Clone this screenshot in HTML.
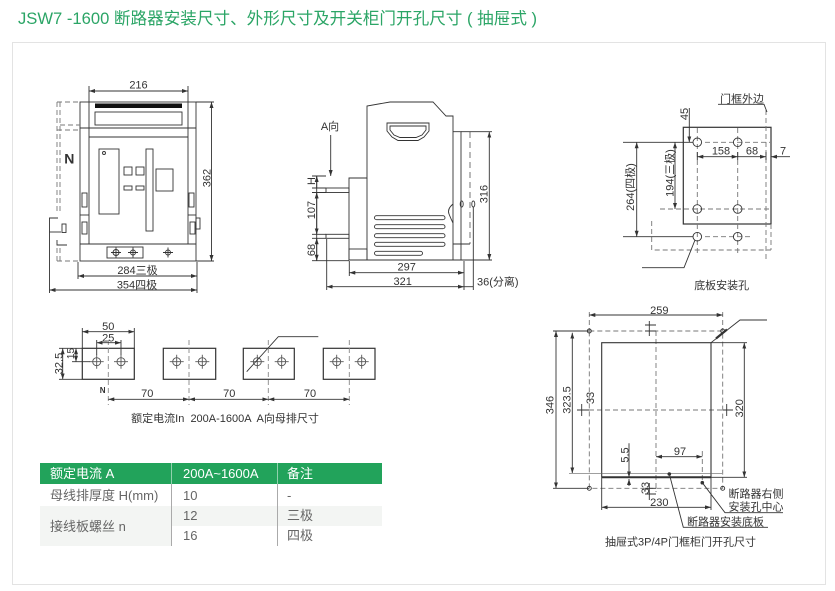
<!DOCTYPE html>
<html><head><meta charset="utf-8">
<style>
html,body{margin:0;padding:0;background:#fff;}
body{width:835px;height:591px;position:relative;overflow:hidden;font-family:"Liberation Sans","Noto Sans CJK SC",sans-serif;}
.frame{position:absolute;left:12px;top:42px;width:812px;height:541px;border:1px solid #e3e3e3;}
.title{position:absolute;left:18px;top:8px;font-size:16.6px;color:#2ba566;white-space:pre;line-height:22px;}
svg{position:absolute;left:0;top:0;}
.bg{position:absolute;}
.t{position:absolute;font-size:13px;white-space:pre;line-height:20px;color:#666;}
.h{color:#fff;}
</style></head><body>
<div class="frame"></div>
<div class="title">JSW7 -1600 断路器安装尺寸、外形尺寸及开关柜门开孔尺寸 ( 抽屉式 )</div>

<!-- table -->
<div class="bg" style="left:40px;top:463px;width:342px;height:21px;background:#22a35b;"></div>
<div class="bg" style="left:171px;top:463px;width:1px;height:21px;background:rgba(255,255,255,0.5);"></div>
<div class="bg" style="left:277px;top:463px;width:1px;height:21px;background:rgba(255,255,255,0.5);"></div>
<div class="bg" style="left:40px;top:506px;width:342px;height:20px;background:#f3f5f3;"></div>
<div class="bg" style="left:40px;top:526px;width:131px;height:20px;background:#f3f5f3;"></div>
<div class="bg" style="left:171px;top:484px;width:1px;height:62px;background:#aaa;"></div>
<div class="bg" style="left:277px;top:484px;width:1px;height:62px;background:#aaa;"></div>
<div class="t h" style="left:50px;top:463.5px;">额定电流 A</div>
<div class="t h" style="left:183px;top:463.5px;">200A~1600A</div>
<div class="t h" style="left:287px;top:463.5px;">备注</div>
<div class="t" style="left:50px;top:485.5px;">母线排厚度 H(mm)</div>
<div class="t" style="left:183px;top:485.5px;">10</div>
<div class="t" style="left:287px;top:485.5px;">-</div>
<div class="t" style="left:183px;top:506px;">12</div>
<div class="t" style="left:287px;top:506px;">三极</div>
<div class="t" style="left:183px;top:526px;">16</div>
<div class="t" style="left:287px;top:526px;">四极</div>
<div class="t" style="left:50px;top:516.5px;">接线板螺丝 n</div>

<svg width="835" height="591" viewBox="0 0 835 591" font-family="Liberation Sans, Noto Sans CJK SC, sans-serif">
<defs>
<marker id="a" markerUnits="userSpaceOnUse" markerWidth="6" markerHeight="4" refX="6" refY="2" orient="auto-start-reverse"><path d="M0,0L6,2L0,4z" fill="#333"/></marker>
</defs>

<!-- ===== FRONT VIEW ===== -->
<g fill="none" stroke="#333" stroke-width="0.9">
<rect x="80" y="102" width="116" height="159"/>
<path d="M89,102V244M188,102V244"/>
<rect x="95" y="112" width="87" height="13"/>
<path d="M80,128H196M89,137H188M80,244H196"/>
<rect x="99" y="149" width="20" height="65"/>
<circle cx="104" cy="153" r="1.5"/>
<rect x="124" y="167" width="8" height="8"/>
<rect x="136" y="167" width="8" height="8"/>
<rect x="124" y="186" width="8" height="4"/>
<rect x="136" y="186" width="8" height="4"/>
<rect x="146" y="149" width="7" height="82"/>
<rect x="156" y="169" width="17" height="22"/>
<rect x="107" y="247" width="36" height="11"/>
<circle cx="116" cy="252.5" r="3"/><path d="M111,252.5H121M116,247.5V257.5"/>
<circle cx="133" cy="252.5" r="2.5"/><path d="M128,252.5H138M133,247.5V257.5"/>
<circle cx="168" cy="252.5" r="2.5"/><path d="M163,252.5H173M168,247.5V257.5"/>
<!-- side brackets -->
<rect x="82" y="193" width="5" height="14"/>
<path d="M80,215H89"/>
<rect x="82" y="222" width="5" height="12"/>
<rect x="189" y="193" width="5" height="14"/>
<path d="M188,215H196"/>
<rect x="190" y="222" width="5" height="12"/>
<rect x="196" y="218" width="4" height="11"/>
<!-- N pole dashed -->
<g stroke="#777" stroke-dasharray="5,3">
<path d="M57,102V214M60,102V214M57,102H80M60,125H80M57,130H78M57,248V261M60,248V261M57,261H80"/>
</g>
<path d="M58,218H49.5V293"/>
<path d="M49.5,232H61"/>
<rect x="62" y="224" width="4" height="8.5"/>
<path d="M57,240V245H67"/>
<!-- dims -->
<path d="M89,91H188" marker-start="url(#a)" marker-end="url(#a)"/>
<path d="M89,86V102M188,86V102"/>
<path d="M211.5,102V261" marker-start="url(#a)" marker-end="url(#a)"/>
<path d="M196,102H214M196,261H214"/>
<path d="M78,276H197" marker-start="url(#a)" marker-end="url(#a)"/>
<path d="M78,262V279M197,262V293"/>
<path d="M49.5,290H197" marker-start="url(#a)" marker-end="url(#a)"/>
</g>
<rect x="95" y="103.5" width="87" height="4.5" fill="#111"/>

<!-- ===== SIDE VIEW ===== -->
<g fill="none" stroke="#333" stroke-width="0.9">
<path d="M349,260V178H367V106L390,102H433L446,116H453V260"/>
<path d="M453,131.7H461V260M349,260H461M367,178V260"/>
<rect x="349" y="249" width="18" height="11"/>
<rect x="326" y="188" width="23" height="4.5"/>
<rect x="326" y="234.3" width="23" height="4"/>
<path d="M387,123H429V131L424,137L418,140.5H398L392,137L387,131Z"/>
<path d="M390,126H426V130L422,135L416,137.5H400L394,135L390,130Z"/>
<rect x="374.5" y="215.7" width="70.5" height="4" rx="2"/>
<rect x="374.5" y="224.7" width="70.5" height="4" rx="2"/>
<rect x="374.5" y="233.7" width="70.5" height="4" rx="2"/>
<rect x="374.5" y="242.3" width="70.5" height="4" rx="2"/>
<rect x="374.5" y="251.3" width="48" height="4" rx="2"/>
<path d="M453,204Q447,209 449,214Q451,219 453,223"/>
<ellipse cx="461.7" cy="204" rx="1.5" ry="3"/>
<ellipse cx="473.3" cy="204" rx="1.5" ry="3"/>
<path d="M470,132V244" stroke="#666" stroke-dasharray="6,4"/>
<path d="M453,244H470"/>
<path d="M473.3,207V290"/>
<path d="M330.7,135V176" marker-end="url(#a)"/>
<!-- left dims -->
<path d="M316.7,176V260.7"/>
<path d="M316.7,188V176" marker-end="url(#a)"/>
<path d="M316.7,192.5V234.3" marker-start="url(#a)" marker-end="url(#a)"/>
<path d="M316.7,238.3V260.7" marker-start="url(#a)" marker-end="url(#a)"/>
<path d="M312,176H326M312,188H326M312,192.5H326M312,234.3H326M312,238.3H326M312,260.7H349"/>
<!-- 316 -->
<path d="M489.3,131.7V260" marker-start="url(#a)" marker-end="url(#a)"/>
<path d="M461,131.7H492M461,260H492"/>
<!-- bottom dims -->
<path d="M349.3,272.7H464" marker-start="url(#a)" marker-end="url(#a)"/>
<path d="M326.7,286.7H464" marker-start="url(#a)" marker-end="url(#a)"/>
<path d="M464,286.7H473.3"/>
<path d="M349.3,261V276M326.7,239V290M464,261V290"/>
</g>

<!-- ===== BASE PLATE HOLES ===== -->
<g fill="none" stroke="#333" stroke-width="0.9">
<rect x="683.3" y="127.3" width="87.7" height="96.7" stroke-width="1.2"/>
<g stroke="#777" stroke-dasharray="5,3">
<path d="M697.3,128V256M737.7,128V256M705,142.3H770M660,209H771M705,236.7H750"/>
<path d="M651.7,221V250H771M771,224V250M766,110V262"/>
</g>
<circle cx="697.3" cy="142.3" r="4.3"/>
<circle cx="737.7" cy="142.3" r="4.3"/>
<circle cx="697.3" cy="209" r="4.3"/>
<circle cx="737.7" cy="209" r="4.3"/>
<circle cx="697.3" cy="236.7" r="4.3"/>
<circle cx="737.7" cy="236.7" r="4.3"/>
<path d="M718,104.3H764L767,112"/>
<path d="M689.3,108V142.3" marker-end="url(#a)"/>
<path d="M697.3,156.7H737.7" marker-start="url(#a)" marker-end="url(#a)"/>
<path d="M737.7,156.7H766" marker-end="url(#a)"/>
<path d="M790,156.7H771" marker-end="url(#a)"/>
<path d="M697.3,152V160M737.7,152V160M766,152V160M771,152V160"/>
<path d="M636.7,142.3V236.7" marker-start="url(#a)" marker-end="url(#a)"/>
<path d="M623,142.3H693M623,236.7H693"/>
<path d="M675,142.3V209" marker-start="url(#a)" marker-end="url(#a)"/>
<path d="M695,240L684,267.7H642"/>
</g>

<!-- ===== BUS BAR VIEW ===== -->
<g fill="none" stroke="#333" stroke-width="0.9">
<g stroke-width="1.2">
<rect x="82.3" y="348.3" width="52" height="31"/>
<rect x="163.3" y="348.3" width="52.4" height="31"/>
<rect x="243.3" y="348.3" width="51" height="31"/>
<rect x="323.3" y="348.3" width="51.7" height="31"/>
</g>
<g stroke="#555">
<circle cx="96.7" cy="361.7" r="4"/><path d="M89.7,361.7H103.7M96.7,354.7V368.7"/>
<circle cx="121" cy="361.7" r="4"/><path d="M114,361.7H128M121,354.7V368.7"/>
<circle cx="176.7" cy="361.7" r="4"/><path d="M169.7,361.7H183.7M176.7,354.7V368.7"/>
<circle cx="202.3" cy="361.7" r="4"/><path d="M195.3,361.7H209.3M202.3,354.7V368.7"/>
<circle cx="257.3" cy="361.7" r="4"/><path d="M250.3,361.7H264.3M257.3,354.7V368.7"/>
<circle cx="281.7" cy="361.7" r="4"/><path d="M274.7,361.7H288.7M281.7,354.7V368.7"/>
<circle cx="336.7" cy="361.7" r="4"/><path d="M329.7,361.7H343.7M336.7,354.7V368.7"/>
<circle cx="361.7" cy="361.7" r="4"/><path d="M354.7,361.7H368.7M361.7,354.7V368.7"/>
</g>
<g stroke="#888" stroke-dasharray="5,3">
<path d="M108.3,340V405M189,340V405M268.3,340V405M349.3,340V405"/>
</g>
<path d="M82.3,331.7H134.3" marker-start="url(#a)" marker-end="url(#a)"/>
<path d="M82.3,328V348M134.3,328V348"/>
<path d="M96.7,342.7H121" marker-start="url(#a)" marker-end="url(#a)"/>
<path d="M96.7,340V355M121,340V355"/>
<path d="M76,348.3V361.7" marker-start="url(#a)" marker-end="url(#a)"/>
<path d="M72,361.7H90M59,348.3H82"/>
<path d="M62.7,348.3V379.3" marker-start="url(#a)" marker-end="url(#a)"/>
<path d="M59,379.3H82"/>
<path d="M108.3,399.3H189" marker-start="url(#a)" marker-end="url(#a)"/>
<path d="M189,399.3H268.3" marker-start="url(#a)" marker-end="url(#a)"/>
<path d="M268.3,399.3H349.3" marker-start="url(#a)" marker-end="url(#a)"/>
<path d="M246.7,371.7L278.3,336.7H318.3"/>
</g>

<!-- ===== DOOR CUTOUT ===== -->
<g fill="none" stroke="#333" stroke-width="0.9">
<g stroke="#777" stroke-dasharray="5,3">
<rect x="589.3" y="331" width="133.4" height="157.3"/>
<path d="M656,331V492M589,410H723M589.3,312V331M722.7,312V331M702.3,451V480"/>
</g>
<rect x="601.7" y="342.7" width="109.3" height="134.6" stroke-width="1.1"/>
<path d="M601.7,477.3H711" stroke-width="2"/>
<circle cx="589.3" cy="331" r="2"/>
<circle cx="722.7" cy="331" r="2"/>
<circle cx="589.3" cy="488.3" r="2"/>
<circle cx="722.7" cy="488.3" r="2"/>
<path d="M589.3,315H722.7" marker-start="url(#a)" marker-end="url(#a)"/>
<path d="M556,331V488.3" marker-start="url(#a)" marker-end="url(#a)"/>
<path d="M553,331H589M553,488.3H589"/>
<path d="M572.3,332.7V473.3" marker-start="url(#a)" marker-end="url(#a)"/>
<path d="M569,473.3H722" stroke="#666" stroke-width="0.7"/>
<path d="M744.3,342.7V477.3" marker-start="url(#a)" marker-end="url(#a)"/>
<path d="M711,342.7H747M711,477.3H747"/>
<!-- 33 small dims -->
<path d="M649.3,321V336M645,325H656M645,331H656"/>
<path d="M581.7,404V416M577,410H589"/>
<path d="M726.7,404V416M723,410H733"/>
<path d="M649.3,483V500M645,488.3H656M645,494H656"/>
<path d="M629,443.3V477.3" marker-end="url(#a)"/>
<path d="M629,486V479" marker-end="url(#a)"/>
<path d="M656,456.7H702.3" marker-start="url(#a)" marker-end="url(#a)"/>
<path d="M601.7,507.3H711" marker-start="url(#a)" marker-end="url(#a)"/>
<path d="M601.7,478V510M711,478V510"/>
<path d="M669.3,474L683.3,527.3H768"/>
<path d="M702.3,482.7L725,512.7H783"/>
<path d="M711,342.7L740,320H767"/>
<path d="M716,338.5L727,329.5" stroke-width="2.2"/>
</g>
<circle cx="669.3" cy="474" r="1.8" fill="#333"/>
<circle cx="702.3" cy="482.7" r="1.8" fill="#333"/>

<!-- ===== TEXTS ===== -->
<g fill="#333" font-size="11">
<text x="138.5" y="88.5" text-anchor="middle">216</text>
<text x="206.5" y="178" text-anchor="middle" dy="0.35em" transform="rotate(-90 206.5 178)">362</text>
<text x="69.3" y="163.3" text-anchor="middle" font-size="14" font-weight="bold">N</text>
<text x="137.5" y="274" text-anchor="middle">284三极</text>
<text x="137" y="288.5" text-anchor="middle">354四极</text>

<text x="330" y="130" text-anchor="middle">A向</text>
<text x="311" y="181" text-anchor="middle" dy="0.35em" transform="rotate(-90 311 181)">H</text>
<text x="311" y="210" text-anchor="middle" dy="0.35em" transform="rotate(-90 311 210)">107</text>
<text x="311" y="250" text-anchor="middle" dy="0.35em" transform="rotate(-90 311 250)">68</text>
<text x="483.5" y="194" text-anchor="middle" dy="0.35em" transform="rotate(-90 483.5 194)">316</text>
<text x="406.7" y="270.5" text-anchor="middle">297</text>
<text x="402.7" y="285" text-anchor="middle">321</text>
<text x="477" y="285.5">36(分离)</text>

<text x="720" y="102.3">门框外边</text>
<text x="684" y="114" text-anchor="middle" dy="0.35em" transform="rotate(-90 684 114)">45</text>
<text x="721" y="154.5" text-anchor="middle">158</text>
<text x="752" y="154.5" text-anchor="middle">68</text>
<text x="783" y="154.5" text-anchor="middle">7</text>
<text x="630" y="187" text-anchor="middle" dy="0.35em" transform="rotate(-90 630 187)">264(四极)</text>
<text x="669.5" y="173" text-anchor="middle" dy="0.35em" transform="rotate(-90 669.5 173)">194(三极)</text>
<text x="721.7" y="289" text-anchor="middle">底板安装孔</text>

<text x="108.3" y="330" text-anchor="middle">50</text>
<text x="108.3" y="341.5" text-anchor="middle">25</text>
<text x="70.5" y="353.5" text-anchor="middle" dy="0.35em" font-size="10" transform="rotate(-90 70.5 353.5)">15</text>
<text x="58.5" y="363.5" text-anchor="middle" dy="0.35em" transform="rotate(-90 58.5 363.5)">32.5</text>
<text x="102.7" y="393" text-anchor="middle" font-size="8" font-weight="bold">N</text>
<text x="147.3" y="397" text-anchor="middle">70</text>
<text x="229.3" y="397" text-anchor="middle">70</text>
<text x="310" y="397" text-anchor="middle">70</text>
<text x="225" y="422" text-anchor="middle" xml:space="preserve">额定电流In  200A-1600A  A向母排尺寸</text>

<text x="659.3" y="314" text-anchor="middle">259</text>
<text x="549.5" y="405" text-anchor="middle" dy="0.35em" transform="rotate(-90 549.5 405)">346</text>
<text x="566.5" y="400" text-anchor="middle" dy="0.35em" transform="rotate(-90 566.5 400)">323.5</text>
<text x="739.3" y="408.3" text-anchor="middle" dy="0.35em" transform="rotate(-90 739.3 408.3)">320</text>
<text x="590" y="398" text-anchor="middle" dy="0.35em" transform="rotate(-90 590 398)">33</text>
<text x="645" y="488" text-anchor="middle" dy="0.35em" transform="rotate(-90 645 488)">33</text>
<text x="624.5" y="455" text-anchor="middle" dy="0.35em" transform="rotate(-90 624.5 455)">5.5</text>
<text x="680" y="455" text-anchor="middle">97</text>
<text x="659.3" y="506" text-anchor="middle">230</text>
<text x="728.5" y="497.5">断路器右侧</text>
<text x="728.5" y="510.5">安装孔中心</text>
<text x="687" y="525.5">断路器安装底板</text>
<text x="680.5" y="545.5" text-anchor="middle">抽屉式3P/4P门框柜门开孔尺寸</text>
</g>
</svg>
</body></html>
